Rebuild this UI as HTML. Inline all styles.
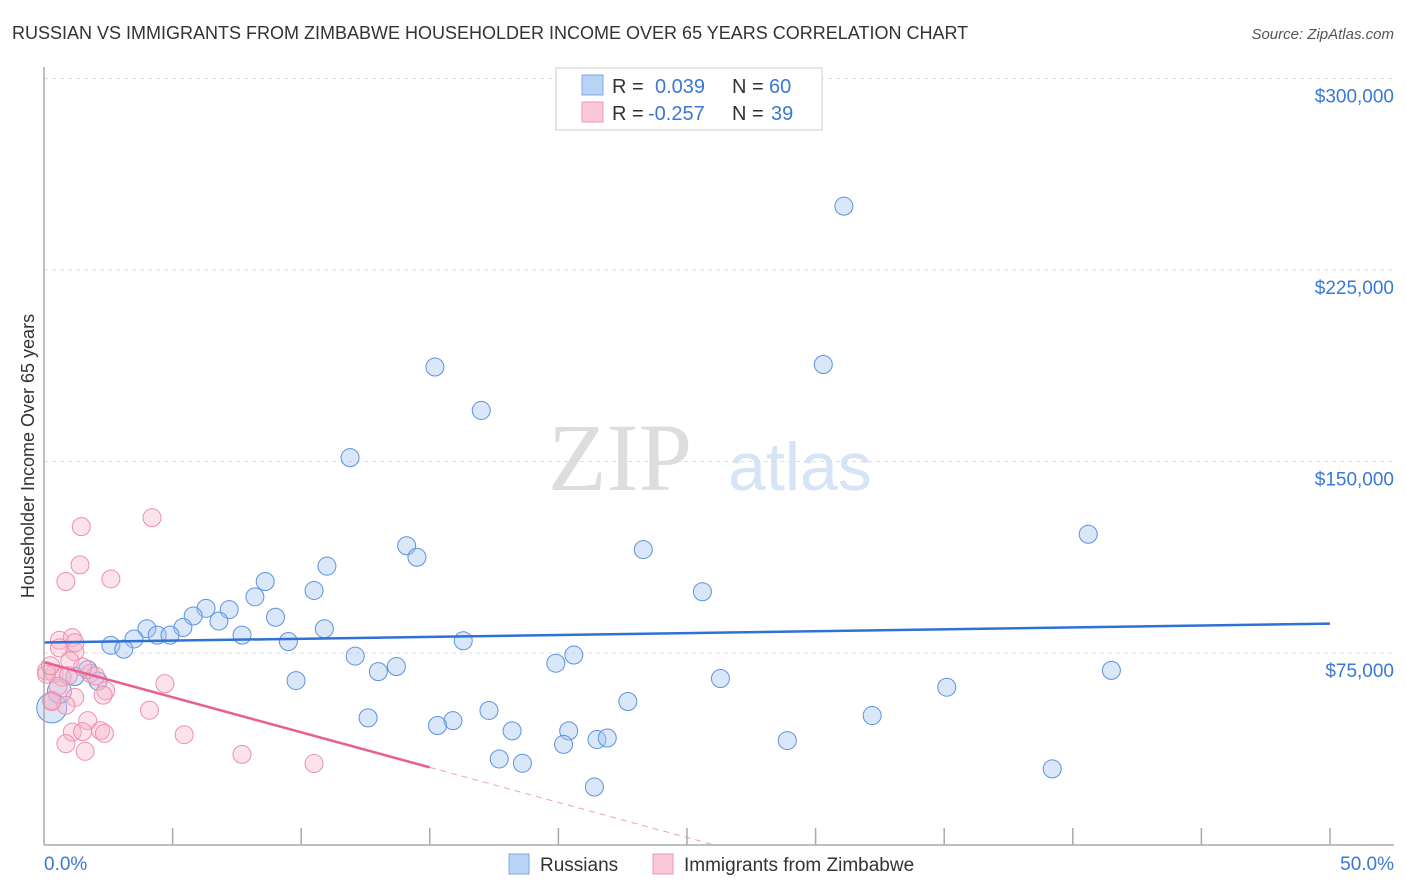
<!DOCTYPE html>
<html><head><meta charset="utf-8">
<style>
body{margin:0;background:#fff;font-family:"Liberation Sans",sans-serif;}
svg{display:block}
</style></head>
<body>
<svg id="chart" width="1406" height="892" xmlns="http://www.w3.org/2000/svg">
<text x="12" y="39" font-size="18" fill="#333">RUSSIAN VS IMMIGRANTS FROM ZIMBABWE HOUSEHOLDER INCOME OVER 65 YEARS CORRELATION CHART</text>
<text x="1394" y="39" font-size="15" fill="#555" font-style="italic" text-anchor="end">Source: ZipAtlas.com</text>
<text x="620" y="490" font-size="96" fill="#ddd" font-family="Liberation Serif,serif" text-anchor="middle">ZIP</text>
<text x="800" y="490" font-size="68" fill="#d6e4f5" text-anchor="middle">atlas</text>
<text transform="translate(34,456) rotate(-90)" font-size="18" fill="#333" text-anchor="middle">Householder Income Over 65 years</text>
<g id="grid"></g><g id="pts"></g><g id="lines"></g>
<line x1="44" y1="67" x2="44" y2="845" stroke="#aaa" stroke-width="1.5"/>
<line x1="44" y1="845" x2="1394" y2="845" stroke="#aaa" stroke-width="1.5"/>
<g id="xticks"></g>
<text x="44" y="870" font-size="19" fill="#3a78d4">0.0%</text>
<text x="1394" y="870" font-size="19" fill="#3a78d4" text-anchor="end">50.0%</text>
<g>
<rect x="556" y="68" width="266" height="62" fill="#fff" stroke="#ccc"/>
<rect x="582" y="75" width="21" height="20" fill="#b9d3f5" stroke="#7ea8e6"/>
<rect x="582" y="102" width="21" height="20" fill="#fbc8d8" stroke="#ee9ab6"/>
<text x="612" y="93" font-size="20" fill="#333">R =</text><text x="655" y="93" font-size="20" fill="#3a78d4">0.039</text>
<text x="732" y="93" font-size="20" fill="#333">N =</text><text x="769" y="93" font-size="20" fill="#3a78d4">60</text>
<text x="612" y="120" font-size="20" fill="#333">R =</text><text x="648" y="120" font-size="20" fill="#3a78d4">-0.257</text>
<text x="732" y="120" font-size="20" fill="#333">N =</text><text x="771" y="120" font-size="20" fill="#3a78d4">39</text>
</g>
<g>
<rect x="509" y="854" width="20" height="20" fill="#b9d3f5" stroke="#7ea8e6"/>
<text x="540" y="871" font-size="19" fill="#333">Russians</text>
<rect x="653" y="854" width="20" height="20" fill="#fbc8d8" stroke="#ee9ab6"/>
<text x="684" y="871" font-size="19" fill="#333">Immigrants from Zimbabwe</text>
</g>
</svg>
<script>
const yTicks=[75000,150000,225000,300000];
const yTickLabels=["$75,000","$150,000","$225,000","$300,000"];
const russX=[31.1,30.3,15.2,17.0,11.9,40.6,14.1,14.5,23.3,11.0,8.6,25.6,10.5,8.2,6.3,7.2,5.8,5.4,6.8,9.0,4.0,4.4,4.9,7.7,3.5,10.9,9.5,16.3,2.6,3.1,12.1,20.6,13.7,19.9,13.0,41.5,1.7,1.2,2.1,9.8,26.3,35.1,22.7,17.3,12.6,32.2,15.9,15.3,18.2,20.4,21.5,20.2,21.9,28.9,17.7,18.6,39.2,21.4,0.3,0.6];
const russY=[250000,188000,187000,170000,151500,121500,117000,112500,115500,109000,103000,99000,99500,97000,92500,92000,89500,85000,87500,89000,84500,82000,82000,82000,80500,84500,79500,79800,78000,76500,73800,74200,69700,71000,67700,68200,68500,65800,64000,64200,65000,61600,56000,52500,49600,50500,48500,46600,44500,44500,41100,39200,41700,40700,33500,31800,29600,22500,53500,60000];
const russR=[9,9,9,9,9,9,9,9,9,9,9,9,9,9,9,9,9,9,9,9,9,9,9,9,9,9,9,9,9,9,9,9,9,9,9,9,9,9,9,9,9,9,9,9,9,9,9,9,9,9,9,9,9,9,9,9,9,9,15,12];
const zimX=[1.45,4.2,1.4,2.6,0.85,0.6,1.1,0.6,1.2,0.1,0.4,0.7,0.95,1.8,2.0,1.5,4.7,2.4,0.3,1.2,0.85,4.1,1.7,2.2,2.35,1.1,1.5,5.45,0.85,1.6,7.7,10.5,0.1,0.25,1.0,0.55,0.3,2.3,1.2];
const zimY=[124500,128000,109500,104000,103000,80000,81000,77000,75500,68000,67000,65500,66200,67000,66000,69500,63000,60200,56500,57600,54500,52600,48500,44600,43500,44000,44200,43000,39500,36500,35300,31700,66700,70000,72000,62000,56000,58500,79000];
const zimR=[9,9,9,9,9,9,9,9,9,9,9,9,9,9,9,9,9,9,9,9,9,9,9,9,9,9,9,9,9,9,9,9,9,9,9,9,9,9,9];
const russTrend=[[0,79100],[50,86500]];
const zimTrend=[[0,71400],[15,30200]];
const zimDash=[[15,30200],[26,0]];
const X0=44,X1=1330,Y0=844.5,YPER=191.5/75000;
const sx=v=>X0+(X1-X0)*v/50, sy=v=>Y0-v*YPER;
const NS="http://www.w3.org/2000/svg";
function mk(tag,attrs,parent){const e=document.createElementNS(NS,tag);for(const k in attrs)e.setAttribute(k,attrs[k]);document.getElementById(parent).appendChild(e);return e;}
yTicks.forEach((t,i)=>{
 const g=mk('line',{x1:44,x2:1394,y1:sy(t),y2:sy(t),stroke:'#ddd','stroke-dasharray':'4,4'},'grid');
 
 
 const tx=mk('text',{x:1394,y:sy(t)+24,'font-size':19,fill:'#3a78d4','text-anchor':'end'},'grid');
 tx.textContent=yTickLabels[i];
 
 
});
for(let i=1;i<=10;i++){
 const l=mk('line',{x1:sx(i*5),x2:sx(i*5),y1:828,y2:845,stroke:'#aaa','stroke-width':1.5},'xticks');
 
 
}
russX.forEach((x,i)=>{
 const c=mk('circle',{cx:sx(x),cy:sy(russY[i]),r:russR[i],fill:'rgba(160,196,240,0.4)',stroke:'#5b93dd','stroke-width':1},'pts');
 
 
});
zimX.forEach((x,i)=>{
 const c=mk('circle',{cx:sx(x),cy:sy(zimY[i]),r:zimR[i],fill:'rgba(248,182,204,0.4)',stroke:'#ec8fb0','stroke-width':1},'pts');
 
 
});
const bl=mk('line',{x1:sx(russTrend[0][0]),y1:sy(russTrend[0][1]),x2:sx(russTrend[1][0]),y2:sy(russTrend[1][1]),stroke:'#2f72d6','stroke-width':2.5},'lines');


const pl=mk('line',{x1:sx(zimTrend[0][0]),y1:sy(zimTrend[0][1]),x2:sx(zimTrend[1][0]),y2:sy(zimTrend[1][1]),stroke:'#e8608e','stroke-width':2.5},'lines');


const pd=mk('line',{x1:sx(zimDash[0][0]),y1:sy(zimDash[0][1]),x2:sx(zimDash[1][0]),y2:sy(zimDash[1][1]),stroke:'#f0a0bb','stroke-width':1,'stroke-dasharray':'6,5'},'lines');


</script>
</body></html>
